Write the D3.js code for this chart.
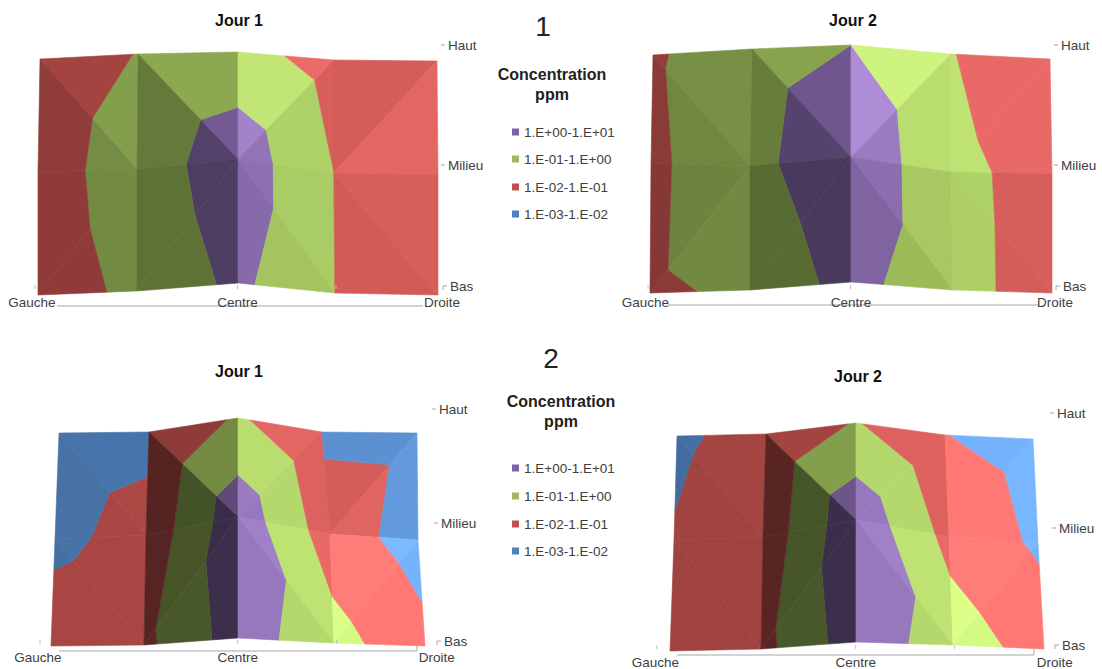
<!DOCTYPE html>
<html><head><meta charset="utf-8">
<script src="https://cdn.jsdelivr.net/npm/d3@7"></script>
<style>html,body{margin:0;padding:0;background:#fff}svg{display:block}text{font-family:"Liberation Sans",Arial,sans-serif}</style>
</head><body><svg id="c" width="1102" height="669"></svg>
<script>
// ---------- data ----------
const legendLabels = ["1.E+00-1.E+01","1.E-01-1.E+00","1.E-02-1.E-01","1.E-03-1.E-02"];
const bandLow  = [0,-1,-2,-3];   // log10(ppm), lower edge of each legend band
const bandHigh = [1, 0,-1,-2];
const xLabels = ["Gauche","Centre","Droite"];
const yLabels = ["Haut","Milieu","Bas"];
const groupLabels = ["1","2"];
const dayLabels = ["Jour 1","Jour 2"];
// log10(concentration, ppm) at each grid node, rows Haut/Milieu/Bas, columns Gauche..Droite
const valuesA = [[-1.53,-0.97,-0.62,-1.40,-1.70],[-1.41,-0.55,0.58,-1.00,-1.50],[-1.50,-0.78,0.21,-1.00,-1.70]];
const valuesB = [[-1.10,-0.47,0.00,-0.97,-1.53],[-1.18,-0.32,0.83,-0.80,-1.29],[-1.15,-0.83,0.38,-0.80,-1.26]];
const valuesC = [[-2.42,-1.98,-0.86,-1.83,-2.23],[-2.20,-1.70,0.64,-1.50,-2.40],[-1.51,-1.23,0.47,-0.63,-1.72]];
const valuesD = [[-2.08,-1.82,-0.92,-1.98,-2.36],[-1.97,-1.65,0.755,-1.30,-2.14],[-1.60,-1.32,0.56,-0.47,-1.43]];
// step across a fold: value seen by the neighbouring cell on one side of the node
const foldsC = [{col:1,row:0,side:"left",value:-2.23},{col:3,row:0,side:"right",value:-2.18}];

// ---------- style / layout ----------
const bandColors = ["#8064a2","#9bbb59","#c0504d","#4f81bd"];
const diagStd = [["\\","\\","/","/"],["/","/","\\","\\"]];
const diagAlt = [["\\","\\","/","/"],["\\","/","\\","/"]];
const panels = [
 {values:valuesA,folds:[],diag:diagStd,title:dayLabels[0],titlePos:[239,20],
  nx:[[40,138,238,334,437],[38,137,238,334,438],[38,137,238,335,438]],
  ny:[[59,54,52,60,61],[172,169,159,173,175],[295,291,283,293,295]],
  shade:[[[.85,.75],[.90,.65],[1.15,1.08],[1.07,1.12]],[[.74,.74],[.61,.61],[1.06,1.03],[1.08,1.06]]],
  xl:[32,237.5,442],xlY:302,line:[57,423,306],ylX:[448,448,450],ylY:[45,165,286],tx:[35,237.5,336],tY:285},
 {values:valuesB,folds:[],diag:diagStd,title:dayLabels[1],titlePos:[853,20],
  nx:[[653,752,851,951,1050],[651,750,851,951,1052],[650,750,851,953,1052]],
  ny:[[55,49,45,54,59],[163,166,157,172,174],[293,290,282,290,293]],
  shade:[[[.77,.72],[.87,.67],[1.20,1.12],[1.14,1.14]],[[.70,.73],[.57,.57],[1.05,1.0],[1.08,1.07]]],
  xl:[645.5,851,1055],xlY:302,line:[668,1038,305],ylX:[1061,1061,1063],ylY:[45,165,286],tx:[648,850.5,952],tY:285},
 {values:valuesC,folds:foldsC,diag:diagAlt,title:dayLabels[0],titlePos:[239,371],
  nx:[[59,149,238,322,417],[55,146,238,330,418],[51,144,238,334,425]],
  ny:[[433,432,418,432,433],[539,535,517,534,540],[646,645,638,643,646]],
  shade:[[[.90,.88],[.74,.44],[1.12,1.10],[1.07,1.11]],[[.88,.87],[.45,.47],[1.14,1.10],[1.25,1.22]]],
  xl:[38,237.7,436.7],xlY:657,line:[59,417,651],ylX:[439,441,444],ylY:[409,523,641],tx:[40,237.7,336.7],tY:640,endTick:true},
 {values:valuesD,folds:[],diag:diagAlt,title:dayLabels[1],titlePos:[858,376],
  nx:[[677,766,856,945,1033],[674,763,856,949,1038],[670,761,856,953,1044]],
  ny:[[436,434,423,435,439],[540,537,520,537,543],[651,649,642,645,649]],
  shade:[[[.86,.84],[.85,.46],[1.10,1.10],[1.22,1.23]],[[.84,.83],[.46,.47],[1.14,1.10],[1.25,1.22]]],
  xl:[655.5,855.7,1054.7],xlY:662,line:[677,1034,655],ylX:[1057,1059,1062],ylY:[413,528,645],tx:[657,855.7,954.7],tY:645,endTick:true}
];
const legends = [
 {num:groupLabels[0],numPos:[543,26],head:[552,74,94],x:512,tx:524,y:[132,159,187,214]},
 {num:groupLabels[1],numPos:[551,358],head:[561,401,421],x:512,tx:524,y:[468,496,524,551]}
];
const textCol="#404040", lineCol="#a6a6a6";

// ---------- drawing ----------
const svg=d3.select("#c");
const colIdx=[0,1,2,3,4];
function shadeColor(base,k){
  const c=d3.rgb(base),extra=k>1?(k-1)*100:0;
  return d3.rgb(Math.min(255,c.r*k+extra),Math.min(255,c.g*k+extra),Math.min(255,c.b*k+extra)).formatHex();
}
function clip(poly,level,keepAbove){
  const out=[];
  for(let i=0;i<poly.length;i++){
    const a=poly[i],b=poly[(i+1)%poly.length];
    const ina=keepAbove?a.v>=level:a.v<=level, inb=keepAbove?b.v>=level:b.v<=level;
    if(ina) out.push(a);
    if(ina!==inb){
      const t=(level-a.v)/(b.v-a.v);
      out.push({x:a.x+t*(b.x-a.x),y:a.y+t*(b.y-a.y),v:level});
    }
  }
  return out;
}
const lineGen=d3.line().x(d=>d.x).y(d=>d.y).curve(d3.curveLinearClosed);
panels.forEach(p=>{
  const g=svg.append("g");
  const sx=p.nx.map(r=>d3.scaleLinear().domain(colIdx).range(r));
  const sy=p.ny.map(r=>d3.scaleLinear().domain(colIdx).range(r));
  const node=(col,row,cell)=>{
    let v=p.values[row][col];
    p.folds.forEach(f=>{
      if(f.col===col&&f.row===row&&((f.side==="left"&&cell===col-1)||(f.side==="right"&&cell===col))) v=f.value;
    });
    return {x:sx[row](col),y:sy[row](col),v};
  };
  const facets=[];
  for(let r=0;r<2;r++)for(let c=0;c<4;c++){
    const TL=node(c,r,c),TR=node(c+1,r,c),BL=node(c,r+1,c),BR=node(c+1,r+1,c);
    const tris=p.diag[r][c]==="\\"?[[TL,TR,BR],[TL,BL,BR]]:[[TL,TR,BL],[TR,BL,BR]];
    tris.forEach((tri,t)=>{
      bandLow.forEach((lo,b)=>{
        const poly=clip(clip(tri,lo,true),bandHigh[b],false);
        if(poly.length>2) facets.push({poly,fill:shadeColor(bandColors[b],p.shade[r][c][t])});
      });
    });
  }
  g.append("g").style("filter","blur(0.5px)").selectAll("path.f").data(facets).join("path").attr("class","f")
    .attr("d",d=>lineGen(d.poly)).attr("fill",d=>d.fill).attr("stroke",d=>d.fill).attr("stroke-width",.6).attr("stroke-linejoin","round");

  // floor line and ticks
  const xs=d3.scalePoint().domain(xLabels).range([p.xl[0],p.xl[2]]);
  const ys=d3.scalePoint().domain(yLabels).range([p.ylY[0],p.ylY[2]]);
  g.append("line").attr("x1",p.line[0]).attr("x2",p.line[1]).attr("y1",p.line[2]).attr("y2",p.line[2])
    .attr("stroke",lineCol).attr("stroke-width",1);
  if(p.endTick) g.append("line").attr("x1",p.line[1]).attr("x2",p.line[1]).attr("y1",p.line[2]-6).attr("y2",p.line[2]).attr("stroke",lineCol);
  g.selectAll("line.t").data(p.tx).join("line").attr("class","t")
    .attr("x1",d=>d).attr("x2",d=>d).attr("y1",p.tY).attr("y2",p.tY+4).attr("stroke","#bfbfbf");
  yLabels.forEach((l,i)=>{
    const y=i===1?p.ylY[1]:ys(l), x=p.ylX[i];
    g.append("line").attr("x1",x-7).attr("x2",x-3).attr("y1",y).attr("y2",y).attr("stroke","#a6a6a6");
    if(i===2) g.append("line").attr("x1",x-7).attr("x2",x-7).attr("y1",y).attr("y2",y+4).attr("stroke","#a6a6a6");
    g.append("text").attr("x",x).attr("y",y).attr("dy",".35em").attr("font-size",13.5).attr("fill",textCol).text(l);
  });
  xLabels.forEach((l,i)=>{
    g.append("text").attr("x",p.xl[i]).attr("y",p.xlY).attr("dy",".35em").attr("text-anchor","middle")
      .attr("font-size",13.5).attr("fill",textCol).text(l);
  });
  g.append("text").attr("x",p.titlePos[0]).attr("y",p.titlePos[1]).attr("dy",".35em").attr("text-anchor","middle")
    .attr("font-size",16).attr("font-weight","bold").attr("fill","#111").text(p.title);
});
legends.forEach(l=>{
  const g=svg.append("g");
  g.append("text").attr("x",l.numPos[0]).attr("y",l.numPos[1]).attr("dy",".35em").attr("text-anchor","middle")
    .attr("font-size",28).attr("fill","#222").text(l.num);
  ["Concentration","ppm"].forEach((t,i)=>g.append("text").attr("x",l.head[0]).attr("y",l.head[i+1]).attr("dy",".35em")
    .attr("text-anchor","middle").attr("font-size",16).attr("font-weight","bold").attr("fill","#222").text(t));
  legendLabels.forEach((t,i)=>{
    g.append("rect").attr("x",l.x).attr("y",l.y[i]-3.5).attr("width",7).attr("height",7).attr("fill",bandColors[i]);
    g.append("text").attr("x",l.tx).attr("y",l.y[i]).attr("dy",".35em").attr("font-size",13.5).attr("fill",textCol).text(t);
  });
});
</script></body></html>
